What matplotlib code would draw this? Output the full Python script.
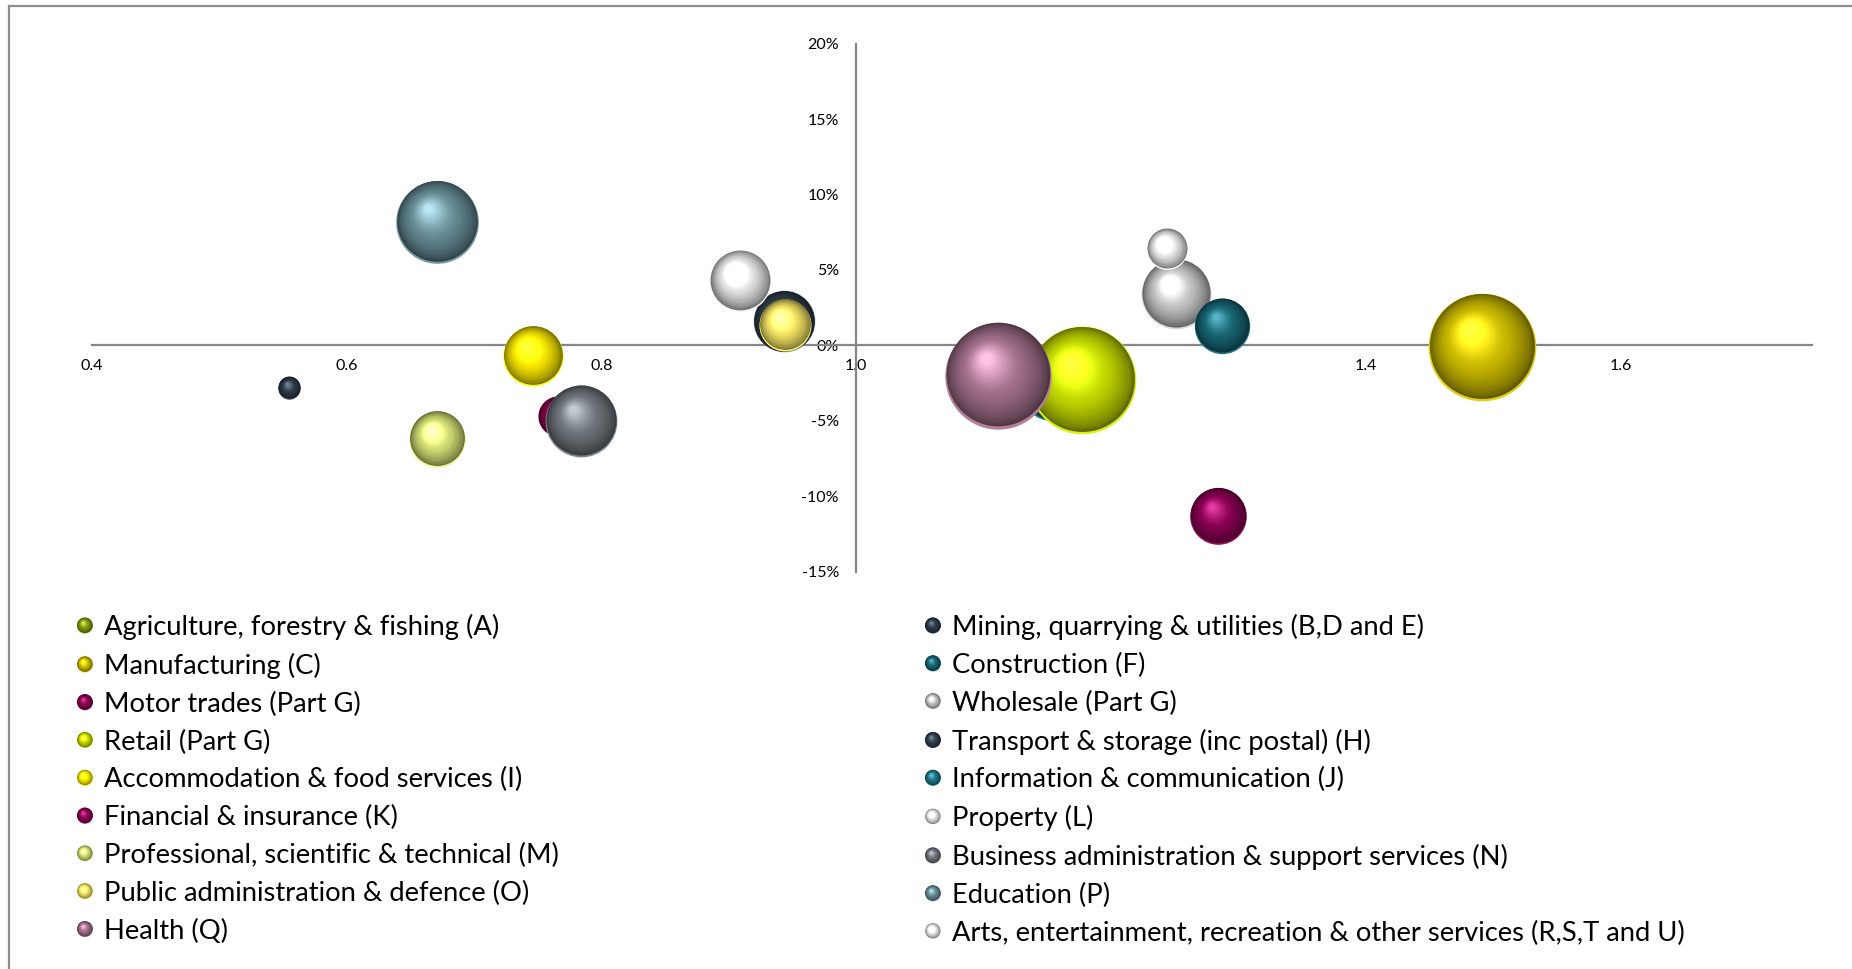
import numpy as np
import matplotlib
matplotlib.use("Agg")
import matplotlib.pyplot as plt
from matplotlib.lines import Line2D
from matplotlib.patches import Circle
from matplotlib.legend_handler import HandlerBase
from matplotlib.transforms import ScaledTranslation
from matplotlib.colors import to_rgb

plt.rcParams["font.family"] = ["Lato", "DejaVu Sans"]
plt.rcParams["axes.unicode_minus"] = False

# ---- data -------------------------------------------------------------
sectors = [
    "Agriculture, forestry & fishing (A)",
    "Mining, quarrying & utilities (B,D and E)",
    "Manufacturing (C)",
    "Construction (F)",
    "Motor trades (Part G)",
    "Wholesale (Part G)",
    "Retail (Part G)",
    "Transport & storage (inc postal) (H)",
    "Accommodation & food services (I)",
    "Information & communication (J)",
    "Financial & insurance (K)",
    "Property (L)",
    "Professional, scientific & technical (M)",
    "Business administration & support services (N)",
    "Public administration & defence (O)",
    "Education (P)",
    "Health (Q)",
    "Arts, entertainment, recreation & other services (R,S,T and U)",
]
# location quotient (x), employment change in % (y), bubble size (relative)
quotient = [1.17, 0.555, 1.491, 1.287, 0.766, 1.251, 1.177, 0.943, 0.746,
            1.153, 1.284, 0.909, 0.671, 0.784, 0.944, 0.671, 1.111, 1.244]
change = [-2.4, -2.8, -0.1, 1.3, -4.7, 3.4, -2.3, 1.6, -0.7,
          -3.0, -11.3, 4.3, -6.2, -5.0, 1.35, 8.2, -2.0, 6.4]
weight = [12, 3.6, 83, 22, 11.6, 35, 83, 27, 26,
          25, 23, 27, 22.6, 37, 19.4, 49, 81, 12]
colors = ["#7d9010", "#2b3945", "#c4b400", "#16606e", "#800048", "#bdbdbd",
          "#bed400", "#2e3c48", "#eedd00", "#1e6e7e", "#840050", "#dadada",
          "#cad670", "#6a7076", "#ecdc60", "#628690", "#9a6a84", "#dedede"]

x_ticks = [0.4, 0.6, 0.8, 1.0, 1.2, 1.4, 1.6]
y_ticks = [-15, -10, -5, 0, 5, 10, 15, 20]

left_legend = [0, 2, 4, 6, 8, 10, 12, 14, 16]
right_legend = [1, 3, 5, 7, 9, 11, 13, 15, 17]

# drawing order, back to front
back_to_front = [4, 0, 9, 6, 16, 2, 15, 13, 5, 7, 11, 8, 10, 12, 3, 14, 17, 1]

SIZE_SCALE = 72.3  # points^2 per unit of weight


# ---- sphere shading ---------------------------------------------------
def shade(c, s):
    c = np.array(to_rgb(c))
    if s < 0:
        return tuple(c * (1 + s))
    c2 = np.minimum(c * (1 + 1.1 * s), 1.0)
    return tuple(c2 + (1 - c2) * 0.4 * s)


def sphere_layers(n=40):
    """(diameter fraction, dx, dy in radius units, shade amount) per layer."""
    out = [(1.0, 0.0, 0.0, 0.12)]
    for k in range(n):
        t = k / (n - 1)
        f = 0.975 * (1 - 0.9 * t)
        dx = -0.22 * t
        dy = 0.025 + 0.30 * t
        if t < 0.45:
            s = -0.5 + 0.5 * (t / 0.45) ** 0.7
        else:
            s = 0.6 * ((t - 0.45) / 0.55) ** 1.4
        out.append((f, dx, dy, s))
    return out


LAYERS = sphere_layers()


def draw_sphere(ax, x, y, area, color, z):
    d = np.sqrt(area)  # marker diameter in points
    r = d / 2
    fig = ax.figure
    for i, (f, dx, dy, s) in enumerate(LAYERS):
        tr = ax.transData + ScaledTranslation(dx * r / 72, dy * r / 72,
                                              fig.dpi_scale_trans)
        ax.scatter([x], [y], s=(d * f) ** 2, color=[shade(color, s)],
                   linewidths=0, transform=tr, zorder=z + i * 1e-3,
                   clip_on=False)


class SphereHandler(HandlerBase):
    def create_artists(self, legend, orig_handle, xdescent, ydescent,
                       width, height, fontsize, trans):
        color = orig_handle.get_color()
        r = 5.8
        cx = width / 2 - xdescent
        cy = height / 2 - ydescent
        arts = []
        for f, dx, dy, s in LAYERS[::2]:
            p = Circle((cx + dx * r, cy + dy * r), r * f,
                       facecolor=shade(color, s), edgecolor="none",
                       transform=trans)
            arts.append(p)
        return arts


# ---- figure -----------------------------------------------------------
fig = plt.figure(figsize=(18.52, 9.69), dpi=100)
ax = fig.add_axes([0.0497, 0.410, 0.9285, 0.5449])
ax.set_xlim(0.4, 1.75)
ax.set_ylim(-15, 20)
ax.patch.set_visible(False)

axis_grey = "#868686"
ax.spines["left"].set_position(("data", 1.0))
ax.spines["bottom"].set_position(("data", 0))
for side in ("top", "right"):
    ax.spines[side].set_visible(False)
for side in ("left", "bottom"):
    ax.spines[side].set_color(axis_grey)
    ax.spines[side].set_linewidth(1.6)

ax.set_xticks(x_ticks)
ax.set_xticklabels([f"{v:.1f}" for v in x_ticks])
ax.set_yticks(y_ticks)
ax.set_yticklabels([f"{v}%" for v in y_ticks])
ax.tick_params(axis="both", length=0, labelsize=11.5, colors="black")
ax.tick_params(axis="x", pad=10)
ax.tick_params(axis="y", pad=12.5)

for z, i in enumerate(back_to_front):
    draw_sphere(ax, quotient[i], change[i], weight[i] * SIZE_SCALE,
                colors[i], 3 + z)

# chart-area outline (top and left edges)
fig.add_artist(Line2D([8.5 / 1852, 1.0], [1 - 6 / 969] * 2,
                      transform=fig.transFigure, color="#8c8c8c", lw=1.6))
fig.add_artist(Line2D([8.5 / 1852] * 2, [0.0, 1 - 6 / 969],
                      transform=fig.transFigure, color="#8c8c8c", lw=1.6))


# ---- legend (two columns) ----------------------------------------------
def make_legend(idx, x_anchor):
    handles = [Line2D([], [], color=colors[i]) for i in idx]
    labels = [sectors[i] for i in idx]
    leg = fig.legend(handles, labels, loc="upper left",
                     bbox_to_anchor=(x_anchor, 1 - 614 / 969),
                     bbox_transform=fig.transFigure,
                     frameon=False, fontsize=19.7, borderpad=0,
                     borderaxespad=0, handlelength=0.8, handleheight=0.7,
                     handletextpad=0.3, labelspacing=0.465,
                     handler_map={Line2D: SphereHandler()})
    return leg


make_legend(left_legend, 74 / 1852)
make_legend(right_legend, 922 / 1852)

fig.savefig("out.png", dpi=100, facecolor="white")
